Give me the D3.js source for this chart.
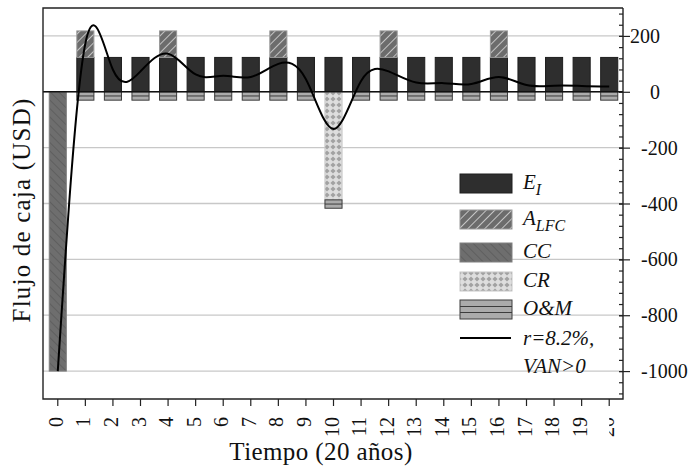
<!DOCTYPE html>
<html>
<head>
<meta charset="utf-8">
<script src="https://cdn.jsdelivr.net/npm/d3@7"></script>
<style>
  body { margin: 0; background: #fff; }
  svg { display: block; }
  text { font-family: "Liberation Serif", "Times New Roman", serif; fill: #111; }
</style>
</head>
<body>
<svg id="chart" width="692" height="472"></svg>
<script>
// the data
var years = [0, 1, 2, 3, 4, 5, 6, 7, 8, 9, 10, 11, 12, 13, 14, 15, 16, 17, 18, 19, 20];
var EI   = [0, 123, 123, 123, 123, 123, 123, 123, 123, 123, 123, 123, 123, 123, 123, 123, 123, 123, 123, 123, 123];
var ALFC = [0, 95, 0, 0, 95, 0, 0, 0, 95, 0, 0, 0, 95, 0, 0, 0, 95, 0, 0, 0, 0];
var CC   = [-1000, 0, 0, 0, 0, 0, 0, 0, 0, 0, 0, 0, 0, 0, 0, 0, 0, 0, 0, 0, 0];
var CR   = [0, 0, 0, 0, 0, 0, 0, 0, 0, 0, -387, 0, 0, 0, 0, 0, 0, 0, 0, 0, 0];
var OM   = [0, -30, -30, -30, -30, -30, -30, -30, -30, -30, -30, -30, -30, -30, -30, -30, -30, -30, -30, -30, -30];
var VAN  = [-1000, 173, 79, 73, 136, 62, 57, 53, 100, 45, -133, 39, 73, 33, 31, 28, 53, 24, 22, 21, 19];
var yTicks = [200, 0, -200, -400, -600, -800, -1000];

var keys = ['EI', 'ALFC', 'CC', 'CR', 'OM'];

var svg = d3.select('#chart');
var L = 43, R = 623, T = 8, B = 399;

var x = d3.scaleBand().domain(years).range([44, 623]).paddingInner(0.38).paddingOuter(0.19);
var y = d3.scaleLinear().domain([-1100, 300]).range([B, T]);
var cx = d => x(d) + x.bandwidth() / 2;

// patterns
var defs = svg.append('defs');
var pA = defs.append('pattern').attr('id', 'pALFC').attr('patternUnits', 'userSpaceOnUse')
    .attr('width', 6).attr('height', 6).attr('patternTransform', 'rotate(45)');
pA.append('rect').attr('width', 6).attr('height', 6).attr('fill', '#6c6c6c');
pA.append('line').attr('x1', 0).attr('y1', 0).attr('x2', 0).attr('y2', 6).attr('stroke', '#c4c4c4').attr('stroke-width', 2);

var pC = defs.append('pattern').attr('id', 'pCC').attr('patternUnits', 'userSpaceOnUse')
    .attr('width', 6).attr('height', 6).attr('patternTransform', 'rotate(-45)');
pC.append('rect').attr('width', 6).attr('height', 6).attr('fill', '#6e6e6e');
pC.append('line').attr('x1', 0).attr('y1', 0).attr('x2', 0).attr('y2', 6).attr('stroke', '#5a5a5a').attr('stroke-width', 1.5);

var pR = defs.append('pattern').attr('id', 'pCR').attr('patternUnits', 'userSpaceOnUse')
    .attr('width', 6).attr('height', 6);
pR.append('rect').attr('width', 6).attr('height', 6).attr('fill', '#dedede');
pR.append('polygon').attr('points', '3,0.4 5.6,3 3,5.6 0.4,3').attr('fill', '#a2a2a2');

var fills = {EI: '#2e2e2e', ALFC: 'url(#pALFC)', CC: 'url(#pCC)', CR: 'url(#pCR)', OM: '#ababab'};
var strokes = {EI: '#1e1e1e', ALFC: '#9a9a9a', CC: '#808080', CR: '#c6c6c6', OM: '#3c3c3c'};

// grid
svg.append('g').selectAll('line').data(yTicks).enter().append('line')
    .attr('x1', L).attr('x2', R).attr('y1', d => y(d)).attr('y2', d => y(d))
    .attr('stroke', '#c8c8c8').attr('stroke-width', 1.3);

// stacked bars
var table = years.map((yr, i) => ({year: yr, EI: EI[i], ALFC: ALFC[i], CC: CC[i], CR: CR[i], OM: OM[i]}));
var series = d3.stack().keys(keys).offset(d3.stackOffsetDiverging)(table);

var layers = svg.append('g').selectAll('g').data(series).enter().append('g')
    .attr('fill', d => fills[d.key]).attr('stroke', d => strokes[d.key]).attr('stroke-width', 1);

layers.selectAll('rect').data(d => d.filter(s => s[1] !== s[0])).enter().append('rect')
    .attr('x', d => x(d.data.year))
    .attr('width', x.bandwidth())
    .attr('y', d => y(Math.max(d[0], d[1])))
    .attr('height', d => Math.abs(y(d[0]) - y(d[1])));

// O&M middle line
var omLayer = series.find(s => s.key === 'OM');
svg.append('g').selectAll('line').data(omLayer.filter(s => s[1] !== s[0])).enter().append('line')
    .attr('x1', d => x(d.data.year)).attr('x2', d => x(d.data.year) + x.bandwidth())
    .attr('y1', d => y((d[0] + d[1]) / 2)).attr('y2', d => y((d[0] + d[1]) / 2))
    .attr('stroke', '#3c3c3c').attr('stroke-width', 1);

// zero line
svg.append('line').attr('x1', L).attr('x2', R).attr('y1', y(0)).attr('y2', y(0))
    .attr('stroke', '#111').attr('stroke-width', 1.4);

// VAN line
var line = d3.line().x((d, i) => cx(years[i])).y(d => y(d)).curve(d3.curveNatural);
svg.append('path').datum(VAN).attr('d', line)
    .attr('fill', 'none').attr('stroke', '#000').attr('stroke-width', 2);

// frame
svg.append('path').attr('d', `M${R},${T}H${L}V${B}H${R}V${T}`)
    .attr('fill', 'none').attr('stroke', '#222').attr('stroke-width', 1.4);

// right axis
var minor = d3.range(-1080, 281, 40);
var ax = svg.append('g').attr('transform', `translate(${R},0)`);
ax.call(d3.axisLeft(y).tickValues(minor).tickSize(4).tickFormat(''));
ax.call(g => g.select('.domain').remove());
var ax2 = svg.append('g').attr('transform', `translate(${R},0)`);
ax2.call(d3.axisRight(y).tickValues(yTicks).tickSize(7).tickSizeOuter(0).tickFormat(d => String(d)));
ax2.select('.domain').remove();
ax2.selectAll('line').attr('x1', -4).attr('stroke', '#222').attr('stroke-width', 1.2);
ax.selectAll('line').attr('stroke', '#222').attr('stroke-width', 1.2);
ax2.selectAll('text')
    .attr('font-size', 20).attr('font-family', '"Liberation Serif", serif').attr('fill', '#111')
    .attr('dy', '0.33em')
    .attr('x', d => d < 0 ? 18 : 37)
    .attr('text-anchor', d => d < 0 ? 'start' : 'end');

// bottom axis
defs.append('clipPath').attr('id', 'clipLast').append('rect')
    .attr('x', -100).attr('y', -5).attr('width', 200).attr('height', 20);
var bx = svg.append('g').attr('transform', `translate(0,${B})`);
bx.call(d3.axisBottom(x).tickSize(7).tickSizeOuter(0));
bx.select('.domain').remove();
bx.selectAll('line').attr('stroke', '#222').attr('stroke-width', 1.2);
bx.selectAll('text')
    .attr('font-size', 20).attr('font-family', '"Liberation Serif", serif').attr('fill', '#111')
    .attr('x', 0).attr('y', 0).attr('dy', null)
    .attr('text-anchor', 'end')
    .attr('transform', 'translate(5,18) rotate(-90)');
bx.selectAll('.tick').filter(d => d === 20).select('text').attr('clip-path', 'url(#clipLast)');

// axis titles
svg.append('text').attr('x', 321).attr('y', 460).attr('text-anchor', 'middle')
    .attr('font-size', 25).attr('letter-spacing', 0.4).text('Tiempo (20 años)');
svg.append('text').attr('transform', 'translate(30,210) rotate(-90)').attr('text-anchor', 'middle')
    .attr('font-size', 25).attr('letter-spacing', 1.2).text('Flujo de caja (USD)');

// legend
var legend = [
  {key: 'EI', main: 'E', sub: 'I', top: 174},
  {key: 'ALFC', main: 'A', sub: 'LFC', top: 210},
  {key: 'CC', main: 'CC', top: 243},
  {key: 'CR', main: 'CR', top: 272},
  {key: 'OM', main: 'O&M', top: 300}
];
var lg = svg.append('g');
var sw = lg.selectAll('g').data(legend).enter().append('g');
sw.append('rect').attr('x', 460).attr('y', d => d.top).attr('width', 52).attr('height', 19)
    .attr('fill', d => fills[d.key]).attr('stroke', d => strokes[d.key]);
sw.filter(d => d.key === 'OM').selectAll('line.om').data(d => [d.top + 6.5, d.top + 12.5]).enter()
    .append('line').attr('x1', 460).attr('x2', 512).attr('y1', d => d).attr('y2', d => d)
    .attr('stroke', '#3c3c3c');
var lt = sw.append('text').attr('x', 523).attr('y', d => d.top + 15)
    .attr('font-size', 21).attr('font-style', 'italic');
lt.append('tspan').text(d => d.main);
lt.filter(d => d.sub).append('tspan').attr('dy', 6).attr('font-size', 16).text(d => d.sub);

lg.append('line').attr('x1', 460).attr('x2', 511).attr('y1', 338).attr('y2', 338)
    .attr('stroke', '#000').attr('stroke-width', 2);
lg.append('text').attr('x', 523).attr('y', 345).attr('font-size', 21).attr('font-style', 'italic').text('r=8.2%,');
lg.append('text').attr('x', 523).attr('y', 373).attr('font-size', 21).attr('font-style', 'italic').text('VAN>0');
</script>
</body>
</html>
